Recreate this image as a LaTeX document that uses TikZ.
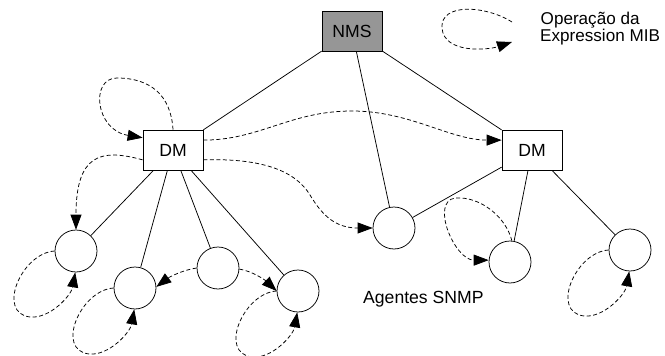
\documentclass[tikz,border=0pt]{standalone}
\usepackage{fontspec}
\setmainfont{Liberation Sans}
\usetikzlibrary{arrows.meta,calc}
\definecolor{nmsgray}{RGB}{150,150,150}
\newcommand\agentloop[1]{\draw[op] (#1.180) .. controls +(-33,2) and +(-34,-4) .. ($(#1)+(-46,66)$) .. controls +(20,2) and +(-4,23) .. (#1.-92);}
\begin{document}
\begin{tikzpicture}[x=1pt,y=-1pt,
  every node/.style={font=\fontsize{17.6}{18}\selectfont},
  box/.style={draw, line width=0.75pt, minimum width=60pt, minimum height=40pt, inner sep=0pt},
  agent/.style={draw, circle, line width=0.75pt, minimum size=42pt, inner sep=0pt},
  link/.style={line width=0.75pt},
  op/.style={line width=0.75pt, dash pattern=on 4pt off 2.5pt, -{Triangle[length=15pt,width=11pt]}},
  lbl/.style={anchor=base west, inner sep=0pt},
  leg/.style={lbl, font=\fontsize{17.1}{17.4}\selectfont}]
\useasboundingbox (0,0) rectangle (665,356);
% nodes
\node[box, fill=nmsgray] (nms) at (352,31) {NMS};
\node[box] (dmL) at (173,150) {DM};
\node[box] (dmR) at (532,150) {DM};
\node[agent] (a1) at (76,251) {};
\node[agent] (a2) at (135,288) {};
\node[agent] (a3) at (218,268) {};
\node[agent] (a4) at (298,291) {};
\node[agent] (a5) at (394,228) {};
\node[agent] (a6) at (510,262) {};
\node[agent] (a7) at (630,250) {};
% solid links
\draw[link] (nms) -- (dmL);
\draw[link] (nms) -- (dmR);
\draw[link] (nms) -- (a5);
\draw[link] (dmR) -- (a5);
\draw[link] (dmR) -- (a6);
\draw[link] (dmR) -- (a7);
\draw[link] (dmL) -- (a1);
\draw[link] (dmL) -- (a2);
\draw[link] (dmL) -- (a3);
\draw[link] (dmL) -- (a4);
% dashed operations
\draw[op] (dmL.north) .. controls (171,95) and (150,78) .. (117,78) .. controls (90,78) and (95,130) .. (dmL.158);
\draw[op] (dmL.18) .. controls (260,140) and (290,111) .. (352,111) .. controls (410,111) and (450,140) .. (dmR.162);
\draw[op] (dmL.-18) .. controls (260,158) and (295,170) .. (310,195) .. controls (322,215) and (335,228) .. (a5.west);
\draw[op] (dmL.198) .. controls (100,148) and (76,155) .. (a1.north);
\agentloop{a1}
\agentloop{a2}
\agentloop{a4}
\agentloop{a7}
\draw[op] (a3.180) .. controls (182,270) and (168,278) .. (a2.3);
\draw[op] (a3.-3) .. controls (252,271) and (265,280) .. (a4.180);
\draw[op] (a6.85) .. controls +(-6,-24) and +(25,-2) .. ($(a6)+(-55,-64)$) .. controls +(-25,4) and +(-34,0) .. (a6.175);
% legend
\coordinate (lgS) at (512,22);
\coordinate (lgE) at (512,42);
\draw[op] (lgS) .. controls (485,5) and (440,3) .. (442,28) .. controls (444,54) and (488,50) .. (lgE);
\node[leg] (lg1) at (540.5,24.3) {Operação da};
\node[leg] (lg2) at (540,41.7) {Expression MIB};
\node[lbl] (ag) at (363,303) {Agentes SNMP};
\end{tikzpicture}
\end{document}
